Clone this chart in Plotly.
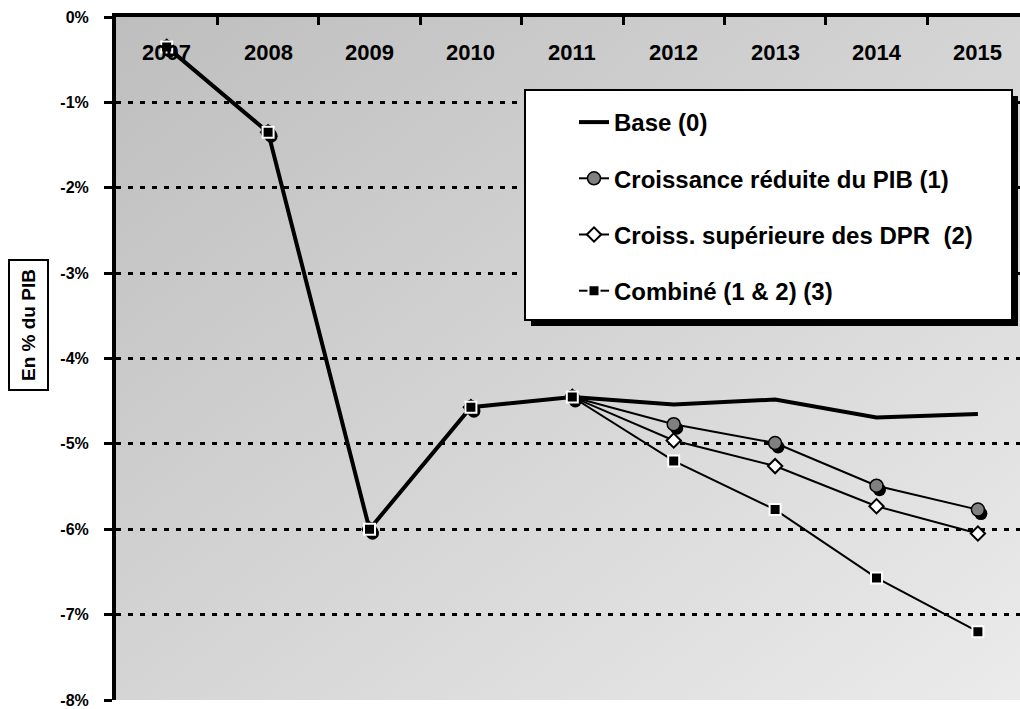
import base64
import plotly.graph_objects as go

# ---- data -------------------------------------------------------------
years = [2007, 2008, 2009, 2010, 2011, 2012, 2013, 2014, 2015]
base_0 = [-0.35, -1.35, -6.00, -4.57, -4.45, -4.54, -4.48, -4.69, -4.65]
croissance_reduite_1 = [-0.35, -1.35, -6.00, -4.57, -4.45, -4.77, -4.99, -5.49, -5.77]
croiss_dpr_2 = [-0.35, -1.35, -6.00, -4.57, -4.45, -4.96, -5.26, -5.73, -6.05]
combine_3 = [-0.35, -1.35, -6.00, -4.57, -4.45, -5.20, -5.77, -6.57, -7.20]

y_ticks = [0, -1, -2, -3, -4, -5, -6, -7, -8]
y_tick_labels = ["0%", "-1%", "-2%", "-3%", "-4%", "-5%", "-6%", "-7%", "-8%"]

series_names = [
    "Base (0)",
    "Croissance réduite du PIB (1)",
    "Croiss. supérieure des DPR  (2)",
    "Combiné (1 & 2) (3)",
]
y_title = "En % du PIB"

# ---- geometry ---------------------------------------------------------
W, H = 1020, 709
ML, MR, MT, MB = 116, 0, 17, 9
PW, PH = W - ML - MR, H - MT - MB
x_range = [2006.5, 2006.5 + PW / 101.4]
y_range = [-8, 0]
px_x = PW / (x_range[1] - x_range[0])
px_y = PH / (y_range[1] - y_range[0])

FONT = "Arial, Liberation Sans, sans-serif"


def px2paper_x(px):
    return (px - ML) / PW


def px2paper_y(py):
    return 1 - (py - MT) / PH


fig = go.Figure()

# drop shadow of the circle markers (drawn on a slightly shifted overlay axis)
fig.add_trace(go.Scatter(
    x=years, y=croissance_reduite_1, xaxis="x2", yaxis="y2",
    mode="markers", showlegend=False, hoverinfo="skip",
    marker=dict(symbol="circle", size=13, color="black"),
))

fig.add_trace(go.Scatter(
    x=years, y=base_0, xaxis="x3", yaxis="y3", name=series_names[0],
    mode="lines", line=dict(color="black", width=4),
    legendgroup="g0", legendrank=1,
))
fig.add_trace(go.Scatter(
    x=years, y=croissance_reduite_1, xaxis="x3", yaxis="y3", name=series_names[1],
    mode="lines+markers", line=dict(color="black", width=2),
    marker=dict(symbol="circle", size=13, color="#808080",
                line=dict(color="black", width=1.5)),
    legendgroup="g1", legendrank=2,
))
fig.add_trace(go.Scatter(
    x=years, y=croiss_dpr_2, xaxis="x3", yaxis="y3", name=series_names[2],
    mode="lines+markers", line=dict(color="black", width=2),
    marker=dict(symbol="diamond", size=11, color="white",
                line=dict(color="black", width=2)),
    legendgroup="g2", legendrank=3,
))
fig.add_trace(go.Scatter(
    x=years, y=combine_3, xaxis="x3", yaxis="y3", name=series_names[3],
    mode="lines+markers", line=dict(color="black", width=2),
    marker=dict(symbol="square", size=11, color="black",
                line=dict(color="white", width=2)),
    legendgroup="g3", legendrank=4,
))

# year labels inside the plot, under the top axis
annotations = [
    dict(x=yr, y=1, xref="x", yref="paper", text=str(yr), showarrow=False,
         yanchor="middle", yshift=-35,
         font=dict(family=FONT, size=22, color="black", weight="bold"))
    for yr in years
]
annotations.append(dict(
    x=px2paper_x(28), y=px2paper_y(325), xref="paper", yref="paper",
    xanchor="center", yanchor="middle",
    text=y_title, textangle=-90, showarrow=False,
    bordercolor="black", borderwidth=2, borderpad=8, bgcolor="white",
    font=dict(family=FONT, size=19, color="black", weight="bold"),
))

# diagonal grey gradient for the plotting area
svg = (
    "<svg xmlns='http://www.w3.org/2000/svg' width='904' height='683' "
    "preserveAspectRatio='none'><defs><linearGradient id='g' x1='0' y1='0' "
    "x2='1' y2='1'><stop offset='0' stop-color='#bebebe'/>"
    "<stop offset='1' stop-color='#ebebeb'/></linearGradient></defs>"
    "<rect width='100%' height='100%' fill='url(#g)'/></svg>"
)
bg_src = "data:image/svg+xml;base64," + base64.b64encode(svg.encode()).decode()

# legend frame with its offset shadow
lx0, lx1, ly0, ly1 = 525, 1012, 90, 320
shapes = [
    dict(type="rect", xref="paper", yref="paper", layer="above",
         x0=px2paper_x(lx0 + 6), x1=px2paper_x(lx1 + 6),
         y0=px2paper_y(ly0 + 6), y1=px2paper_y(ly1 + 6),
         fillcolor="black", line=dict(width=0)),
    dict(type="rect", xref="paper", yref="paper", layer="above",
         x0=px2paper_x(lx0), x1=px2paper_x(lx1),
         y0=px2paper_y(ly0), y1=px2paper_y(ly1),
         fillcolor="white", line=dict(color="black", width=2)),
]

dx = 3 / px_x
dy = 4 / px_y

fig.update_layout(
    width=W, height=H,
    margin=dict(l=ML, r=MR, t=MT, b=MB, pad=0),
    paper_bgcolor="white",
    plot_bgcolor="rgba(0,0,0,0)",
    font=dict(family=FONT, color="black"),
    images=[dict(source=bg_src, xref="paper", yref="paper", x=0, y=1,
                 sizex=1, sizey=1, xanchor="left", yanchor="top",
                 sizing="stretch", layer="below")],
    xaxis=dict(
        range=x_range, side="top", showgrid=False, zeroline=False,
        showline=True, linecolor="black", linewidth=4,
        tickvals=[y + 0.5 for y in years[:-1]], ticks="inside",
        ticklen=8, tickwidth=3, tickcolor="black", showticklabels=False,
    ),
    yaxis=dict(
        range=y_range, zeroline=False,
        showline=True, linecolor="black", linewidth=4,
        tickvals=y_ticks, ticktext=y_tick_labels,
        ticks="outside", ticklen=8, tickwidth=3, tickcolor="black",
        ticklabelstandoff=12,
        tickfont=dict(family=FONT, size=16, color="black", weight="bold"),
        showgrid=True, gridcolor="black", gridwidth=3, griddash="5px,7px",
    ),
    xaxis2=dict(overlaying="x", range=[x_range[0] - dx, x_range[1] - dx],
                visible=False),
    yaxis2=dict(overlaying="y", range=[y_range[0] + dy, y_range[1] + dy],
                visible=False),
    xaxis3=dict(overlaying="x", matches="x", visible=False),
    yaxis3=dict(overlaying="y", matches="y", visible=False),
    legend=dict(
        x=px2paper_x(574), y=px2paper_y(100), xanchor="left", yanchor="top",
        bgcolor="rgba(0,0,0,0)", borderwidth=0,
        font=dict(family=FONT, size=24, color="black", weight="bold"),
        tracegroupgap=22, itemwidth=30,
    ),
    annotations=annotations,
    shapes=shapes,
    showlegend=True,
)

fig.write_html("out.html")
